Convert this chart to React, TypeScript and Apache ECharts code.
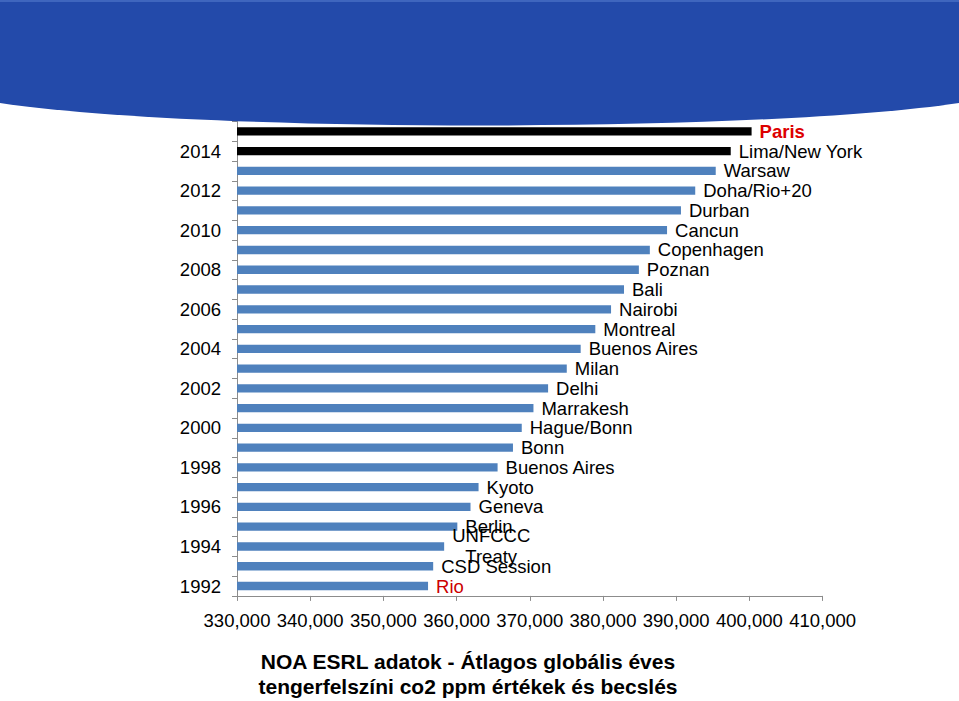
import React, { useEffect, useRef } from "react";
import * as echarts from "echarts";

const years = [
  "1992", "1993", "1994", "1995", "1996", "1997", "1998", "1999", "2000", "2001", "2002", "2003",
  "2004", "2005", "2006", "2007", "2008", "2009", "2010", "2011", "2012", "2013", "2014", "2015",
];
const co2Values = [
  356100, 356800, 358300, 360100, 361900, 363000, 365600, 367700, 368900, 370500, 372500, 375050,
  376950, 378950, 381100, 382870, 384900, 386400, 388750, 390650, 392600, 395400, 397450, 400300,
];
const cities = [
  "Rio", "CSD Session", "UNFCCC\nTreaty", "Berlin", "Geneva", "Kyoto", "Buenos Aires", "Bonn",
  "Hague/Bonn", "Marrakesh", "Delhi", "Milan", "Buenos Aires", "Montreal", "Nairobi", "Bali",
  "Poznan", "Copenhagen", "Cancun", "Durban", "Doha/Rio+20", "Warsaw", "Lima/New York", "Paris",
];
const titleLines = [
  "NOA ESRL adatok - Átlagos globális éves",
  "tengerfelszíni co2 ppm értékek és becslés",
];

const FONT = "'Liberation Sans', Arial, sans-serif";
const FS = 18.5;

let registered = false;
function registerBanner() {
  if (registered) return;
  registered = true;
  echarts.graphic.registerShape(
    "banner",
    echarts.graphic.extendPath(
      "M0 0 H959 V103 C759 133 200 133 0 103 Z" as any,
      {}
    ) as any
  );
}

export default function App() {
  const ref = useRef<HTMLDivElement>(null);
  useEffect(() => {
    if (!ref.current) return;
    registerBanner();
    const chart = echarts.init(ref.current, null, { renderer: "svg" });
    const data = co2Values.map((v, i) => {
      const item: any = {
        value: v,
        itemStyle: { color: i >= 22 ? "#000000" : "#4F81BD" },
      };
      if (i === 0) {
        item.label = { color: "#CC0000" };
      }
      if (i === 23) {
        item.label = { color: "#DD0000", fontWeight: "bold" };
      }
      if (cities[i].indexOf("\n") >= 0) {
        const parts = cities[i].split("\n");
        item.label = {
          formatter: parts.map((p) => "{c|" + p + "}").join("\n"),
          rich: {
            c: { align: "center", fontSize: FS, lineHeight: 21, fontFamily: FONT, color: "#000" },
          },
        };
      }
      return item;
    });
    chart.setOption({
      animation: false,
      backgroundColor: "#ffffff",
      grid: { left: 237, top: 121.5, width: 585.6, height: 474.4, containLabel: false },
      xAxis: {
        type: "value",
        min: 330000,
        max: 410000,
        interval: 10000,
        axisLine: { show: true, lineStyle: { color: "#8c8c8c", width: 1 } },
        axisTick: { show: true, length: 5, lineStyle: { color: "#8c8c8c" } },
        splitLine: { show: false },
        axisLabel: {
          margin: 15,
          fontSize: FS,
          fontFamily: FONT,
          color: "#000",
          formatter: (v: number) => v.toLocaleString("en-US"),
        },
      },
      yAxis: {
        type: "category",
        data: years,
        axisLine: { show: true, lineStyle: { color: "#8c8c8c", width: 1 } },
        axisTick: { show: true, length: 5, interval: 0, lineStyle: { color: "#8c8c8c" } },
        axisLabel: {
          interval: 1,
          margin: 16,
          fontSize: FS,
          fontFamily: FONT,
          color: "#000",
        },
      },
      series: [
        {
          type: "bar",
          data,
          barCategoryGap: "58%",
          label: {
            show: true,
            position: "right",
            distance: 8,
            fontSize: FS,
            fontFamily: FONT,
            color: "#000",
            formatter: (p: any) => cities[p.dataIndex],
          },
        },
      ],
      graphic: [
        {
          type: "banner",
          x: 0,
          y: 0,
          z: 100,
          style: { fill: "#234AAA" },
        },
        {
          type: "rect",
          z: 101,
          shape: { x: 0, y: 0, width: 959, height: 2 },
          style: { fill: "#3F66BE" },
        },
        {
          type: "text",
          x: 468,
          y: 649,
          z: 100,
          style: {
            text: titleLines.join("\n"),
            textAlign: "center",
            font: "bold 21px " + FONT,
            lineHeight: 25,
            fill: "#000",
          },
        },
      ],
    });
    return () => chart.dispose();
  }, []);
  return (
    <div
      ref={ref}
      style={{ position: "fixed", left: 0, top: 0, width: 959, height: 701 }}
    />
  );
}
